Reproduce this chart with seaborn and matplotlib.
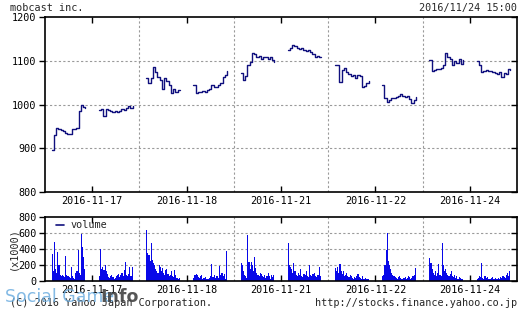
import numpy as np
import pandas as pd
import matplotlib
matplotlib.use("Agg")
import matplotlib.pyplot as plt
import matplotlib.lines as mlines
import seaborn as sns

# ---------------- data ----------------
dates = ["2016-11-17", "2016-11-18", "2016-11-21", "2016-11-22", "2016-11-24"]

# price every 10 minutes, 9:00-11:30 (am) and 12:30-15:00 (pm)
price_am = [
    [897, 930, 946, 945, 942, 940, 935, 933, 933, 945, 945, 946, 985, 1000, 995, 992],
    [1060, 1049, 1060, 1087, 1075, 1064, 1056, 1036, 1062, 1055, 1045, 1026, 1035, 1030, 1033, 1033],
    [1072, 1056, 1065, 1090, 1098, 1118, 1115, 1110, 1112, 1105, 1108, 1110, 1105, 1108, 1102, 1098],
    [1090, 1090, 1052, 1080, 1085, 1075, 1070, 1065, 1068, 1060, 1068, 1065, 1041, 1042, 1050, 1055],
    [1102, 1077, 1080, 1082, 1082, 1085, 1090, 1118, 1110, 1105, 1091, 1100, 1095, 1105, 1093, 1102],
]
price_pm = [
    [988, 990, 975, 990, 987, 986, 984, 985, 984, 986, 990, 988, 992, 998, 992, 997],
    [1045, 1026, 1030, 1030, 1032, 1030, 1033, 1035, 1045, 1040, 1040, 1045, 1050, 1064, 1068, 1078],
    [1125, 1130, 1137, 1135, 1130, 1128, 1130, 1125, 1122, 1126, 1120, 1115, 1110, 1112, 1108, 1108],
    [1045, 1015, 1007, 1010, 1015, 1015, 1018, 1020, 1025, 1020, 1018, 1020, 1012, 1003, 1010, 1017],
    [1100, 1090, 1075, 1078, 1080, 1076, 1078, 1075, 1073, 1070, 1074, 1063, 1072, 1070, 1082, 1080],
]

# volume (x1000 shares) every 5 minutes
vol_am = [
    [340, 120, 490, 150, 100, 366, 200, 80, 60, 80, 60, 50, 310, 80, 60, 50, 40, 180, 60, 40, 30, 100, 120, 390, 100, 80, 590, 420, 300, 150],
    [640, 350, 320, 250, 480, 260, 220, 200, 150, 120, 100, 200, 170, 120, 160, 100, 80, 140, 150, 90, 60, 80, 120, 60, 50, 140, 80, 40, 30, 40],
    [230, 200, 120, 80, 60, 40, 580, 240, 150, 240, 200, 120, 300, 160, 100, 80, 60, 100, 90, 60, 50, 80, 40, 60, 100, 60, 30, 70, 50, 80],
    [160, 120, 180, 100, 210, 130, 90, 120, 60, 80, 100, 60, 50, 80, 60, 40, 30, 50, 40, 60, 90, 50, 40, 30, 60, 30, 20, 40, 30, 20],
    [285, 230, 150, 100, 80, 120, 60, 100, 210, 80, 60, 470, 200, 130, 150, 100, 80, 60, 90, 120, 60, 50, 80, 40, 60, 30, 50, 40, 30, 20],
]
vol_pm = [
    [60, 400, 150, 170, 140, 200, 120, 90, 50, 40, 60, 80, 50, 30, 40, 60, 70, 90, 50, 80, 100, 60, 140, 240, 80, 60, 90, 170, 60, 180],
    [40, 80, 90, 80, 50, 40, 60, 70, 30, 40, 50, 20, 30, 20, 40, 60, 210, 50, 80, 40, 60, 60, 40, 190, 80, 100, 60, 90, 30, 380],
    [470, 200, 180, 150, 100, 220, 120, 80, 60, 100, 70, 150, 60, 50, 90, 80, 120, 60, 50, 200, 80, 60, 90, 100, 60, 50, 70, 80, 180, 60],
    [60, 80, 200, 390, 600, 250, 200, 150, 100, 80, 60, 50, 40, 30, 50, 60, 40, 30, 20, 40, 50, 30, 40, 60, 50, 30, 40, 60, 80, 160],
    [30, 40, 60, 50, 225, 40, 30, 60, 40, 50, 30, 20, 30, 40, 50, 30, 40, 30, 20, 40, 30, 50, 40, 60, 50, 40, 80, 100, 60, 130],
]

price_ticks = [800, 900, 1000, 1100, 1200]
vol_ticks = [0, 200, 400, 600, 800]

# ---------------- build tables ----------------
DAY_HOURS = 7.0          # each day slot spans 8:30 - 15:30
def tpos(day, hour):
    return day + (hour - 8.5) / DAY_HOURS

sessions = []
for d in range(len(dates)):
    for sess, start, arr in (("am", 9.0, price_am[d]), ("pm", 12.5, price_pm[d])):
        sessions.append(pd.DataFrame({
            "t": [tpos(d, start + i * 10 / 60) for i in range(len(arr))],
            "price": arr,
        }))

vrows = []
for d in range(len(dates)):
    for start, arr in ((9.0, vol_am[d]), (12.5, vol_pm[d])):
        for i, v in enumerate(arr):
            vrows.append({"t": tpos(d, start + i * 5 / 60), "volume": v})
vol_df = pd.DataFrame(vrows)

# ---------------- figure ----------------
sns.set_theme(style="white")
plt.rcParams["font.family"] = ["DejaVu Sans Mono"]
W, H = 522, 312
fig = plt.figure(figsize=(W / 100, H / 100), dpi=100)

def rect(x0, y0, x1, y1):
    return [x0 / W, 1 - y1 / H, (x1 - x0) / W, (y1 - y0) / H]

ax = fig.add_axes(rect(45, 17.3, 517, 192))
axv = fig.add_axes(rect(45, 217, 517, 281))

line_col = "#10107e"
bar_col = "#0808e8"
grid_col = "#9a9a9a"
fs = 7.3

for sdf in sessions:
    sns.lineplot(data=sdf, x="t", y="price", estimator=None, sort=False,
                 color=line_col, linewidth=1.0, drawstyle="steps-post", ax=ax,
                 legend=False)

axv.bar(vol_df["t"], vol_df["volume"], width=5 / 60 / DAY_HOURS, align="edge",
        color=bar_col, linewidth=0)

mids = [d + 0.5 for d in range(len(dates))]
bounds = [1, 2, 3, 4]

for a, yt, ylim in ((ax, price_ticks, (800, 1200)), (axv, vol_ticks, (0, 800))):
    a.set_xlim(0, len(dates))
    a.set_ylim(*ylim)
    a.set_xlabel("")
    a.set_ylabel("")
    for s in a.spines.values():
        s.set_color("black")
        s.set_linewidth(1.2)
    for b in bounds:
        a.axvline(b, color=grid_col, linewidth=0.8, linestyle=(0, (2, 2)), zorder=0)
    for y in yt[1:-1]:
        a.axhline(y, color=grid_col, linewidth=0.8, linestyle=(0, (2, 2)), zorder=0)
    a.set_xticks(mids)
    a.set_xticklabels(dates, fontsize=fs)
    a.set_yticks(yt)
    a.set_yticklabels([str(v) for v in yt], fontsize=fs)
    a.tick_params(axis="x", direction="in", length=4, width=1, top=True, bottom=True,
                  pad=3, colors="black")
    a.tick_params(axis="y", direction="out", length=4, width=1, left=True, pad=2,
                  colors="black")
    a.grid(False)

# right y ticks inward
for a in (ax, axv):
    a.yaxis.set_tick_params(which="major", right=True)
    for t in a.yaxis.get_major_ticks():
        t.tick2line.set_marker(mlines.TICKLEFT)
        t.tick2line.set_markersize(4)

# legend in volume panel
axv.plot([], [], color=line_col, linewidth=1.2, label="volume")
axv.legend(loc="upper left", bbox_to_anchor=(0.02, 0.98), frameon=False,
           fontsize=fs, handlelength=0.7, handletextpad=0.7,
           borderaxespad=0.0, borderpad=0.2)

# texts
fig.text(10 / W, 1 - 8 / H, "mobcast inc.", fontsize=fs, ha="left", va="center")
fig.text(517 / W, 1 - 8 / H, "2016/11/24 15:00", fontsize=fs, ha="right", va="center")
fig.text(13 / W, 1 - 249 / H, "(x1000)", fontsize=fs, ha="center", va="center", rotation=90)
fig.text(10 / W, 1 - 303 / H, "(C) 2016 Yahoo Japan Corporation.", fontsize=fs,
         ha="left", va="center")
fig.text(517 / W, 1 - 303 / H, "http://stocks.finance.yahoo.co.jp", fontsize=fs,
         ha="right", va="center")

# watermark
fig.text(5 / W, 1 - 297 / H, "Social Game", fontsize=12.5, color="#6eaee0", alpha=0.85,
         ha="left", va="center", family="DejaVu Sans")
fig.text(100 / W, 1 - 297 / H, "Info", fontsize=12.5, color="#444444", fontweight="bold",
         alpha=0.9, ha="left", va="center", family="DejaVu Sans")

fig.savefig("out.png", dpi=100)
